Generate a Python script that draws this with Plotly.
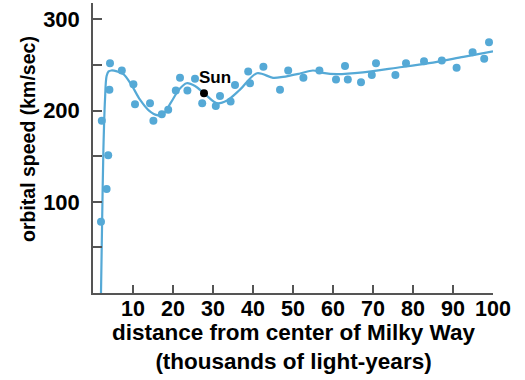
import plotly.graph_objects as go

# observed stars (distance in thousands of ly, orbital speed km/s)
obs_x = [2.0, 2.2, 3.4, 3.8, 4.1, 4.25, 7.2, 10.1, 10.5, 14.25, 15.1, 17.2, 18.8,
         20.7, 21.75, 23.6, 25.5, 27.3, 30.7, 31.75, 34.4, 35.5, 38.8, 39.25,
         42.6, 46.75, 48.8, 52.6, 56.6, 60.75, 63.0, 63.7, 67.0, 69.7, 70.75,
         75.6, 78.25, 82.75, 87.2, 90.9, 94.9, 97.8, 99.0]
obs_y = [78, 189, 114, 151, 223, 252, 244, 229, 207, 208, 189, 196, 201,
         222, 236, 222, 235, 208, 205, 216, 210, 228, 243, 230,
         248, 223, 244, 236, 244, 234, 249, 234, 231, 239, 252,
         239, 252, 254, 255, 247, 264, 257, 275]

# fitted rotation curve
curve_x = [2.0, 2.3, 2.6, 3.0, 3.4, 3.9, 4.6, 6.0, 7.6, 9.5, 11.75, 14.0, 16.0, 17.5,
           19.5, 21.5, 23.4, 25.5, 28.0, 31.0, 33.5, 36.75, 41.0, 45.0, 47.5, 51.75,
           55.0, 57.5, 61.0, 67.5, 76.0, 84.0, 92.6, 100.0]
curve_y = [0, 84, 157, 212, 238, 243, 244, 243, 240, 229, 212, 200, 195, 196,
           209, 223, 230, 227, 218, 208, 211, 223, 241, 236, 237, 240.7,
           244, 241.4, 240, 242, 247, 252, 259, 265]

sun_x = [27.75]
sun_y = [219]
sun_label = "Sun"

x_ticks = [10, 20, 30, 40, 50, 60, 70, 80, 90, 100]
y_ticks = [50, 100, 150, 200, 250, 300]
y_labels = ["", "100", "", "200", "", "300"]

x_title_1 = "distance from center of Milky Way"
x_title_2 = "(thousands of light-years)"
y_title = "orbital speed (km/sec)"

blue = "#55a9d6"
axis_col = "#555555"
font = "Liberation Sans, Arial, Helvetica, sans-serif"

fig = go.Figure()
fig.add_trace(go.Scatter(x=curve_x, y=curve_y, mode="lines",
                         line=dict(color=blue, width=2.2, shape="spline", smoothing=0.9),
                         hoverinfo="skip", showlegend=False))
fig.add_trace(go.Scatter(x=obs_x, y=obs_y, mode="markers",
                         marker=dict(color=blue, size=8), showlegend=False))
fig.add_trace(go.Scatter(x=sun_x, y=sun_y, mode="markers",
                         marker=dict(color="black", size=8), showlegend=False))

fig.add_annotation(x=sun_x[0], y=sun_y[0], text="<b>" + sun_label + "</b>",
                   showarrow=False, xanchor="left", yanchor="middle",
                   xshift=-7, yshift=16, font=dict(size=17, color="black", family=font))

# axis titles
fig.add_annotation(xref="paper", yref="paper", x=0.5, y=0, yshift=-54,
                   text="<b>" + x_title_1 + "</b><br><b>" + x_title_2 + "</b>",
                   showarrow=False, xanchor="center", yanchor="middle",
                   font=dict(size=22.5, color="black", family=font))
fig.add_annotation(xref="paper", yref="paper", x=0, y=0.5, xshift=-65, yshift=9,
                   text="<b>" + y_title + "</b>", showarrow=False, textangle=-90,
                   xanchor="center", yanchor="middle",
                   font=dict(size=19.5, color="black", family=font))

fig.update_xaxes(range=[0, 100], tickvals=x_ticks,
                 ticktext=["<b>%d</b>" % v for v in x_ticks],
                 ticks="inside", ticklen=8, automargin=False,
                 tickwidth=1.5, tickcolor=axis_col, showline=True, linecolor=axis_col,
                 linewidth=1.5, showgrid=False, zeroline=False, ticklabelstandoff=-5,
                 tickfont=dict(size=21.5, color="black", family=font))
fig.update_yaxes(range=[0, 318], tickvals=y_ticks,
                 ticktext=["<b>%s</b>" % t if t else "" for t in y_labels],
                 ticks="inside", automargin=False,
                 ticklen=9, tickwidth=1.5, tickcolor=axis_col, showline=True,
                 linecolor=axis_col, linewidth=1.5, showgrid=False, zeroline=False,
                 ticklabelstandoff=7,
                 tickfont=dict(size=22, color="black", family=font))

fig.update_layout(width=525, height=380, margin=dict(l=93, r=32, t=3, b=87),
                  plot_bgcolor="white", paper_bgcolor="white",
                  font=dict(family=font, color="black"))
fig.write_html("out.html", config={"displayModeBar": False},
               post_script="document.body.style.margin='0';")
